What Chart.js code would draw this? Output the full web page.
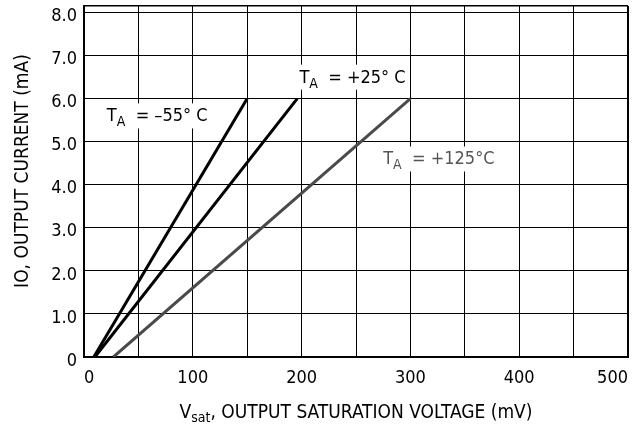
<!DOCTYPE html>
<html>
<head>
<meta charset="utf-8">
<script src="https://cdn.jsdelivr.net/npm/chart.js@4.4.1/dist/chart.umd.min.js"></script>
<style>
  html, body { margin: 0; padding: 0; background: #fff; }
  #wrap { width: 636px; height: 428px; }
</style>
</head>
<body>
<div id="wrap"><canvas id="satChart" width="636" height="428"></canvas></div>
<script>
// Output current vs. output saturation voltage, one line per ambient temperature
const vsatMinus55 = [9, 150];   // mV
const ioMinus55 = [0, 6.0];     // mA
const vsat25 = [10, 196];
const io25 = [0, 6.0];
const vsat125 = [27, 300];
const io125 = [0, 6.0];

// Curve labels: "T" + subscript "A" + the rest
const labelSub = ["A", "A", "A"];
const labelRest = ["  = \u201355\u00b0 C", "  = +25\u00b0 C", "  = +125\u00b0C"];

// Tick labels
const xTicks = [0, 100, 200, 300, 400, 500];
const yTicks = [0, 1, 2, 3, 4, 5, 6, 7, 8];

const FONT = '"Liberation Sans Narrow", "DejaVu Sans Condensed", "Arial Narrow", sans-serif';

// Where each curve label sits (data units, left edge / baseline)
const labelAnchors = [
    { x: 21, y: 5.47, color: "#000" },
    { x: 198, y: 6.37, color: "#000" },
    { x: 275, y: 4.47, color: "#555" }
];

// Turn x/y arrays into point objects for the scatter datasets
function toPoints(xs, ys) {
    return xs.map((x, i) => ({ x: x, y: ys[i] }));
}

// Draws the curve labels and axis titles (both need subscripts)
const textPlugin = {
    id: "textPlugin",
    afterDatasetsDraw(chart) {
        const ctx = chart.ctx;
        const xs = chart.scales.x;
        const ys = chart.scales.y;
        ctx.save();
        ctx.textBaseline = "alphabetic";
        ctx.textAlign = "left";

        labelAnchors.forEach((a, i) => {
            const px = xs.getPixelForValue(a.x);
            const py = ys.getPixelForValue(a.y);
            ctx.font = "18px " + FONT;
            const wT = ctx.measureText("T").width;
            const wRest = ctx.measureText(labelRest[i]).width;
            ctx.font = "14px " + FONT;
            const wSub = ctx.measureText(labelSub[i]).width;
            // white box hides the grid behind the text
            ctx.fillStyle = "#fff";
            ctx.fillRect(px - 3, py - 18, wT + wSub + wRest + 5, 25);
            ctx.fillStyle = a.color;
            ctx.font = "18px " + FONT;
            ctx.fillText("T", px, py);
            ctx.font = "14px " + FONT;
            ctx.fillText(labelSub[i], px + wT, py + 5);
            ctx.font = "18px " + FONT;
            ctx.fillText(labelRest[i], px + wT + wSub, py);
        });

        // x axis title: V(sat), OUTPUT SATURATION VOLTAGE (mV)
        ctx.fillStyle = "#000";
        ctx.font = "19px " + FONT;
        const wV = ctx.measureText("V").width;
        const tail = ", OUTPUT SATURATION VOLTAGE (mV)";
        const wTail = ctx.measureText(tail).width;
        ctx.font = "14px " + FONT;
        const wSat = ctx.measureText("sat").width;
        const cx = (chart.chartArea.left + chart.chartArea.right) / 2;
        const x0 = cx - (wV + wSat + wTail) / 2;
        ctx.font = "19px " + FONT;
        ctx.fillText("V", x0, 418);
        ctx.font = "14px " + FONT;
        ctx.fillText("sat", x0 + wV, 422);
        ctx.font = "19px " + FONT;
        ctx.fillText(tail, x0 + wV + wSat, 418);

        // y axis title
        ctx.translate(23, 171);
        ctx.rotate(-Math.PI / 2);
        ctx.textAlign = "center";
        ctx.textBaseline = "middle";
        ctx.font = "19px " + FONT;
        ctx.fillText("IO, OUTPUT CURRENT (mA)", 0, 0);
        ctx.restore();
    }
};

const ctx = document.getElementById("satChart").getContext("2d");

new Chart(ctx, {
    type: "scatter",
    data: {
        datasets: [
            { data: toPoints(vsatMinus55, ioMinus55), borderColor: "#000" },
            { data: toPoints(vsat25, io25), borderColor: "#000" },
            { data: toPoints(vsat125, io125), borderColor: "#4a4a4a" }
        ]
    },
    options: {
        responsive: false,
        animation: false,
        showLine: true,
        elements: {
            line: { borderWidth: 3, tension: 0 },
            point: { radius: 0 }
        },
        layout: { padding: { top: 6, right: 8, left: 0, bottom: 0 } },
        plugins: { legend: { display: false }, tooltip: { enabled: false } },
        scales: {
            x: {
                type: "linear",
                min: 0,
                max: 500,
                ticks: {
                    stepSize: 50,
                    autoSkip: false,
                    maxRotation: 0,
                    align: "inner",
                    padding: 11,
                    color: "#000",
                    font: { family: FONT, size: 18 },
                    callback: v => xTicks.includes(v) ? String(v) : ""
                },
                grid: {
                    color: "#000",
                    lineWidth: c => (c.tick && c.tick.value === 500) ? 2 : 1,
                    drawTicks: false
                },
                border: { color: "#000", width: 2 },
                afterFit: s => { s.height = 71; s.paddingLeft = 0; s.paddingRight = 0; }
            },
            y: {
                type: "linear",
                min: 0,
                max: 8.15,
                ticks: {
                    autoSkip: false,
                    padding: 7,
                    labelOffset: 4,
                    color: "#000",
                    font: { family: FONT, size: 18 },
                    callback: v => yTicks.includes(v) ? (v === 0 ? "0" : v.toFixed(1)) : ""
                },
                afterBuildTicks: s => {
                    s.ticks = yTicks.map(v => ({ value: v })).concat([{ value: s.max }]);
                },
                grid: {
                    color: "#000",
                    lineWidth: c => (c.tick && c.tick.value > 8) ? 1.5 : 1,
                    drawTicks: false
                },
                border: { color: "#000", width: 2 },
                afterFit: s => { s.width = 84; s.paddingTop = 0; s.paddingBottom = 0; }
            }
        }
    },
    plugins: [textPlugin]
});
</script>
</body>
</html>
